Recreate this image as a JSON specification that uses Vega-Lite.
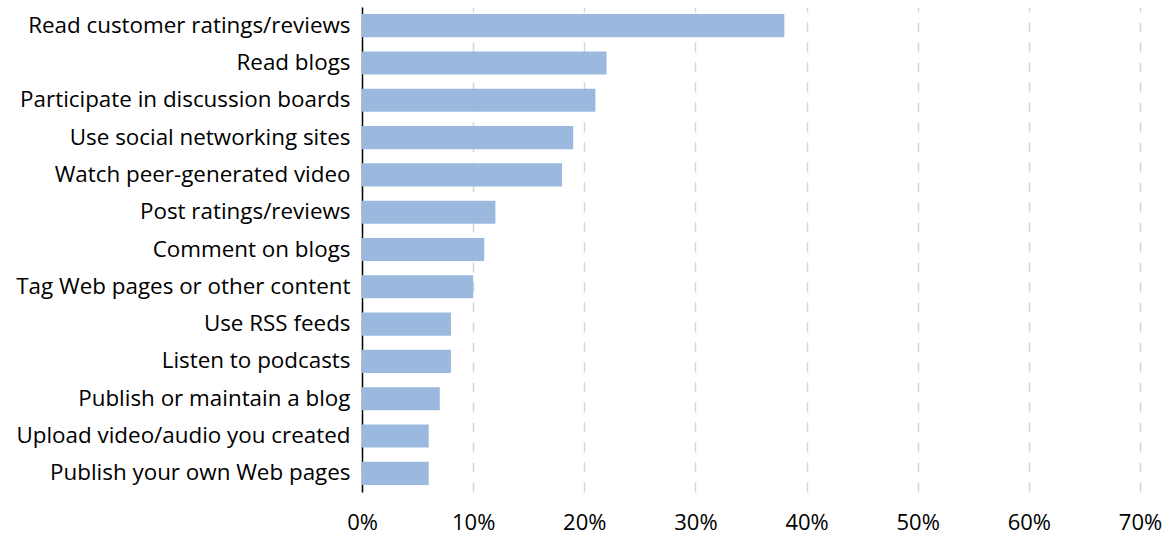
{
  "$schema": "https://vega.github.io/schema/vega-lite/v6.json",
  "autosize": {"type": "none"},
  "padding": {"left": 362, "top": 7, "right": 29, "bottom": 48},
  "width": 778,
  "height": 485,
  "background": "white",
  "config": {
    "view": {"stroke": null},
    "font": "Open Sans"
  },
  "data": {
    "values": [
      {"activity": "Read customer ratings/reviews", "pct": 38},
      {"activity": "Read blogs", "pct": 22},
      {"activity": "Participate in discussion boards", "pct": 21},
      {"activity": "Use social networking sites", "pct": 19},
      {"activity": "Watch peer-generated video", "pct": 18},
      {"activity": "Post ratings/reviews", "pct": 12},
      {"activity": "Comment on blogs", "pct": 11},
      {"activity": "Tag Web pages or other content", "pct": 10},
      {"activity": "Use RSS feeds", "pct": 8},
      {"activity": "Listen to podcasts", "pct": 8},
      {"activity": "Publish or maintain a blog", "pct": 7},
      {"activity": "Upload video/audio you created", "pct": 6},
      {"activity": "Publish your own Web pages", "pct": 6}
    ]
  },
  "mark": {"type": "bar", "color": "#9BB9DF"},
  "encoding": {
    "y": {
      "field": "activity",
      "type": "nominal",
      "sort": null,
      "scale": {"paddingInner": 0.38, "paddingOuter": 0.19},
      "axis": {
        "title": null,
        "ticks": false,
        "domainColor": "#000000",
        "domainWidth": 1.5,
        "labelFontSize": 22.4,
        "labelColor": "#000000",
        "labelPadding": 12,
        "labelLimit": 400
      }
    },
    "x": {
      "field": "pct",
      "type": "quantitative",
      "scale": {"domain": [0, 70], "nice": false},
      "axis": {
        "title": null,
        "values": [0, 10, 20, 30, 40, 50, 60, 70],
        "labelExpr": "datum.value + '%'",
        "labelFlush": false,
        "domain": false,
        "ticks": false,
        "grid": true,
        "gridColor": "#d6d6d6",
        "gridWidth": 1.5,
        "gridDash": [10, 10],
        "labelFontSize": 22,
        "labelColor": "#000000",
        "labelPadding": 20
      }
    }
  }
}
